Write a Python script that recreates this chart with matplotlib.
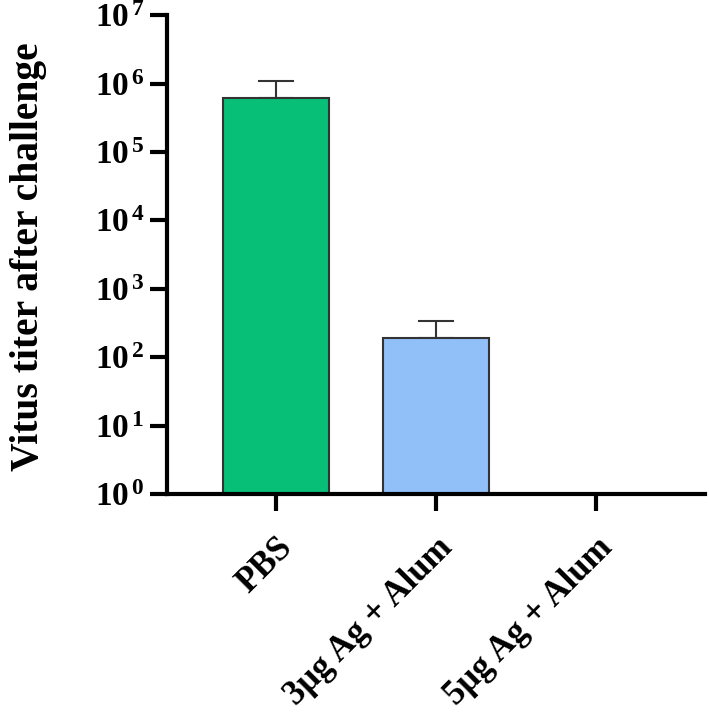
import matplotlib
matplotlib.use("Agg")
import matplotlib.pyplot as plt
import numpy as np

groups = ["PBS", "3μg Ag + Alum", "5μg Ag + Alum"]
titer = [6.2e5, 190, 1.0]
titer_err = [4.8e5, 150, 0.0]
colors = ["#08BF78", "#91BFF7", "#91BFF7"]

plt.rcParams["font.family"] = ["Liberation Serif", "DejaVu Serif"]
plt.rcParams["font.weight"] = "bold"
plt.rcParams["mathtext.fontset"] = "custom"
plt.rcParams["mathtext.rm"] = "Liberation Serif:bold"
plt.rcParams["mathtext.bf"] = "Liberation Serif:bold"
plt.rcParams["mathtext.it"] = "Liberation Serif:bold"

fig = plt.figure(figsize=(7.09, 7.2), dpi=100)
ax = fig.add_axes([0.2355, 0.314, 0.7585, 0.665])

x = np.arange(len(groups))
ax.bar(x, titer, width=0.66, color=colors, edgecolor="#333333", linewidth=1.5,
       zorder=2)
ax.errorbar(x[:2], titer[:2], yerr=[np.zeros(2), titer_err[:2]], fmt="none",
            ecolor="#333333", elinewidth=1.5, capsize=13, capthick=1.5, zorder=1)

ax.set_yscale("log")
ax.set_ylim(1, 1e7)
ax.set_xlim(-0.68, 2.68)
ax.set_yticks([10.0 ** k for k in range(8)])
ax.set_yticklabels([r"$10^{\,%d}$" % k for k in range(8)], fontsize=24)
ax.yaxis.set_minor_locator(matplotlib.ticker.NullLocator())

ax.set_xticks(x)
ax.set_xticklabels(groups, rotation=45, ha="right", rotation_mode="anchor",
                   fontsize=25, fontweight="bold")

for s in ["top", "right"]:
    ax.spines[s].set_visible(False)
for s in ["left", "bottom"]:
    ax.spines[s].set_linewidth(3)
ax.tick_params(axis="y", length=12, width=3, pad=4)
ax.tick_params(axis="x", length=12, width=3, pad=15)

ax.set_ylabel("Vitus titer after challenge", fontsize=28.5, fontweight="bold",
              labelpad=34)
ax.yaxis.label.set_y(0.495)

fig.savefig("out.png", dpi=100)
